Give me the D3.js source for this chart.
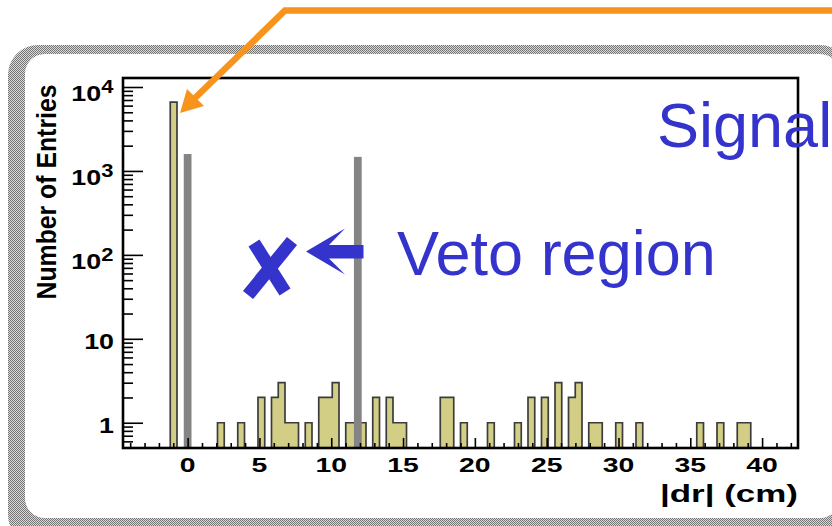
<!DOCTYPE html>
<html><head><meta charset="utf-8">
<script src="https://cdn.jsdelivr.net/npm/d3@7"></script>
<style>html,body{margin:0;padding:0;background:#fff;overflow:hidden}</style>
</head><body>
<svg id="chart" width="832" height="526"></svg>
<script>
// |dr| histogram: 100 bins spanning -4.5 .. 42.5 cm
const xMin = -4.5, xMax = 42.5, nBins = 100;
const entries = [
  0,0,0,0,0,0,0,6600,0,0,
  0,0,0,0,1,0,0,1,0,0,
  2,0,2,3,1,1,0,1,0,2,
  2,3,0,1,1,1,0,2,0,2,
  1,1,0,0,0,0,0,2,2,0,
  1,0,0,0,1,0,0,0,1,0,
  2,0,2,0,3,0,2,3,0,1,
  1,0,0,1,0,0,1,0,0,0,
  0,0,0,0,0,1,0,0,1,0,
  0,1,1,0,0,0,0,0,0,0
];

// vetoed peaks (grey markers)
const vetoPos = [0, 11.85];
const vetoEntries = [1590, 1470];

// axis ticks and labels
const xMajor = [0, 5, 10, 15, 20, 25, 30, 35, 40];
const xMajorLabels = ["0", "5", "10", "15", "20", "25", "30", "35", "40"];
const yMajor = [1, 10, 100, 1000, 10000];
const yLabelBase = ["1", "10", "10", "10", "10"];
const yLabelExp = ["", "", "2", "3", "4"];

const xTitle = "|dr| (cm)";
const yTitle = "Number of Entries";
const noteVeto = "Veto region";
const noteSignal = "Signal";

const FONT = "'Liberation Sans', Arial, Helvetica, sans-serif";
const BLUE = "#3434cc";
const ORANGE = "#f7941d";

const svg = d3.select("#chart");

// ---- rounded halftone panel border ----
const defs = svg.append("defs");
const pat = defs.append("pattern").attr("id", "halftone")
  .attr("width", 2).attr("height", 2).attr("patternUnits", "userSpaceOnUse");
pat.append("rect").attr("width", 2).attr("height", 2).attr("fill", "#dadada");
pat.append("rect").attr("x", 0).attr("y", 0).attr("width", 1).attr("height", 1).attr("fill", "#747474");
pat.append("rect").attr("x", 1).attr("y", 1).attr("width", 1).attr("height", 1).attr("fill", "#747474");

function roundRect(p, x, y, w, h, r) {
  p.moveTo(x + r, y);
  p.lineTo(x + w - r, y);
  p.arcTo(x + w, y, x + w, y + r, r);
  p.lineTo(x + w, y + h - r);
  p.arcTo(x + w, y + h, x + w - r, y + h, r);
  p.lineTo(x + r, y + h);
  p.arcTo(x, y + h, x, y + h - r, r);
  p.lineTo(x, y + r);
  p.arcTo(x, y, x + r, y, r);
  p.closePath();
}
const border = d3.path();
roundRect(border, 8, 45, 842, 500, 30);
roundRect(border, 25, 54, 815, 464, 20);
svg.append("path").attr("d", border.toString())
  .attr("fill", "url(#halftone)").attr("fill-rule", "evenodd");

// ---- plot area ----
const x = d3.scaleLinear().domain([xMin, xMax]).range([123, 798]);
const y = d3.scaleLog().domain([0.5, 12800]).range([448, 78]);
const binW = (xMax - xMin) / nBins;

defs.append("clipPath").attr("id", "plotClip").append("rect")
  .attr("x", x(xMin)).attr("y", y(12800))
  .attr("width", x(xMax) - x(xMin)).attr("height", y(0.5) - y(12800));

const pts = entries.map((n, i) => ({ x0: xMin + i * binW, n }));
pts.push({ x0: xMax, n: entries[nBins - 1] });
const yv = d => d.n > 0 ? y(d.n) : y(0.5);

const plot = svg.append("g").attr("clip-path", "url(#plotClip)");
plot.append("path").datum(pts)
  .attr("d", d3.area().curve(d3.curveStepAfter).x(d => x(d.x0)).y0(y(0.5)).y1(yv))
  .attr("fill", "#d3ce86");
plot.append("path").datum(pts)
  .attr("d", d3.line().curve(d3.curveStepAfter).x(d => x(d.x0)).y(yv))
  .attr("fill", "none").attr("stroke", "#3c3c3c").attr("stroke-width", 1.7);

// grey markers
plot.selectAll("rect.veto").data(vetoPos).join("rect").attr("class", "veto")
  .attr("x", d => x(d - 0.27))
  .attr("width", d => x(d + 0.27) - x(d - 0.27))
  .attr("y", (d, i) => y(vetoEntries[i]))
  .attr("height", (d, i) => y(0.5) - y(vetoEntries[i]))
  .attr("fill", "#848484");

// ---- ticks (drawn inward, on top of the bars) ----
function styleAxis(g) {
  g.select(".domain").remove();
  g.selectAll(".tick line").attr("stroke", "#000").attr("stroke-width", 1.6);
  g.selectAll(".tick text").remove();
}
const xMinor = d3.range(-4, 43, 1).filter(v => v % 5 !== 0);
svg.append("g").attr("transform", `translate(0,${y(0.5)})`)
  .call(d3.axisBottom(x).tickValues(xMinor).tickSizeInner(-5).tickSizeOuter(0)).call(styleAxis);
svg.append("g").attr("transform", `translate(0,${y(0.5)})`)
  .call(d3.axisBottom(x).tickValues(xMajor).tickSizeInner(-10).tickSizeOuter(0)).call(styleAxis);

const yMinor = [0.6, 0.7, 0.8, 0.9];
[1, 10, 100, 1000].forEach(d => { for (let k = 2; k <= 9; k++) yMinor.push(k * d); });
svg.append("g").attr("transform", `translate(${x(xMin)},0)`)
  .call(d3.axisLeft(y).tickValues(yMinor).tickSizeInner(-10).tickSizeOuter(0)).call(styleAxis);
svg.append("g").attr("transform", `translate(${x(xMin)},0)`)
  .call(d3.axisLeft(y).tickValues(yMajor).tickSizeInner(-20).tickSizeOuter(0)).call(styleAxis);

// frame
svg.append("rect")
  .attr("x", x(xMin)).attr("y", y(12800))
  .attr("width", x(xMax) - x(xMin)).attr("height", y(0.5) - y(12800))
  .attr("fill", "none").attr("stroke", "#000").attr("stroke-width", 2.6);

// ---- tick labels ----
svg.append("g").selectAll("text").data(xMajor).join("text")
  .attr("transform", d => `translate(${x(d)},472) scale(1.35,1)`)
  .attr("text-anchor", "middle")
  .attr("font-family", FONT).attr("font-weight", "bold").attr("font-size", 21)
  .text((d, i) => xMajorLabels[i]);

const yl = svg.append("g").selectAll("g").data(yMajor).join("g")
  .attr("transform", d => `translate(114,${y(d)}) scale(1.22,1)`);
yl.each(function (d, i) {
  const g = d3.select(this);
  if (yLabelExp[i] === "") {
    g.append("text").attr("x", 0).attr("y", 10.5).attr("text-anchor", "end")
      .attr("font-family", FONT).attr("font-weight", "bold").attr("font-size", 22)
      .text(yLabelBase[i]);
  } else {
    g.append("text").attr("x", -10.5).attr("y", 14).attr("text-anchor", "end")
      .attr("font-family", FONT).attr("font-weight", "bold").attr("font-size", 22)
      .text(yLabelBase[i]);
    g.append("text").attr("x", -10.5).attr("y", 6).attr("text-anchor", "start")
      .attr("font-family", FONT).attr("font-weight", "bold").attr("font-size", 18)
      .text(yLabelExp[i]);
  }
});

// ---- axis titles ----
svg.append("text")
  .attr("x", 798).attr("y", 502).attr("text-anchor", "end")
  .attr("font-family", FONT).attr("font-weight", "bold").attr("font-size", 24)
  .attr("textLength", 138).attr("lengthAdjust", "spacingAndGlyphs")
  .text(xTitle);

svg.append("text")
  .attr("transform", "translate(55.5,192) rotate(-90) scale(1,1.15)")
  .attr("x", -107.5).attr("y", 0)
  .attr("font-family", FONT).attr("font-weight", "bold").attr("font-size", 24)
  .attr("textLength", 215).attr("lengthAdjust", "spacingAndGlyphs")
  .text(yTitle);

// ---- annotations ----
svg.append("text").attr("x", 397).attr("y", 275)
  .attr("font-family", FONT).attr("font-size", 63).attr("fill", BLUE).text(noteVeto);
svg.append("text").attr("x", 657).attr("y", 147)
  .attr("font-family", FONT).attr("font-size", 63).attr("fill", BLUE).text(noteSignal);

// cross over the vetoed region
const cross = svg.append("g").attr("stroke", BLUE).attr("stroke-width", 13).attr("stroke-linecap", "butt");
cross.append("line").attr("x1", 254).attr("y1", 243).attr("x2", 285).attr("y2", 292);
cross.append("line").attr("x1", 292).attr("y1", 241).attr("x2", 248).attr("y2", 295);

// left-pointing arrow
svg.append("polygon")
  .attr("points", "306,251.5 345,228.5 329,245 363.5,245 363.5,258.5 329,258.5 345,274.5")
  .attr("fill", BLUE);

// orange pointer to the signal peak
svg.append("path")
  .attr("d", "M840,10.5 L285,10.5 L195,98")
  .attr("fill", "none").attr("stroke", ORANGE).attr("stroke-width", 6.5).attr("stroke-linejoin", "miter");
svg.append("polygon")
  .attr("points", "180,113 187,89 204,106")
  .attr("fill", ORANGE);
</script>
</body></html>
